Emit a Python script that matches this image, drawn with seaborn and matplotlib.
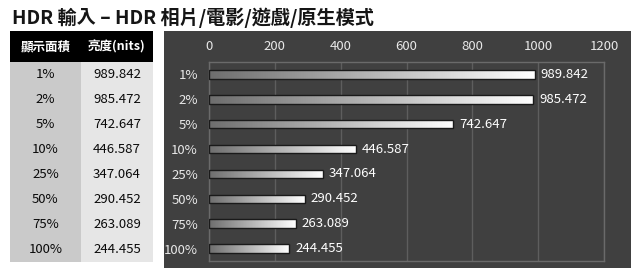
import numpy as np
import pandas as pd
import matplotlib
matplotlib.use("Agg")
import matplotlib.pyplot as plt
from matplotlib.patches import Rectangle
import seaborn as sns

title = "HDR 輸入 – HDR 相片/電影/遊戲/原生模式"
header = ["顯示面積", "亮度(nits)"]
areas = ["1%", "2%", "5%", "10%", "25%", "50%", "75%", "100%"]
nits = [989.842, 985.472, 742.647, 446.587, 347.064, 290.452, 263.089, 244.455]
xticks = [0, 200, 400, 600, 800, 1000, 1200]

sns.set_theme(style="white")
plt.rcParams['font.family'] = ['Noto Sans CJK TC', 'DejaVu Sans']

W, H = 640, 274
fig = plt.figure(figsize=(6.4, 2.74), dpi=100)

def fr(x0, y0, x1, y1):
    return [x0 / W, 1 - y1 / H, (x1 - x0) / W, (y1 - y0) / H]

# title
fig.text(12 / W, 1 - 18 / H, title, fontsize=13.8, fontweight='bold', color='#151515',
         va='center', ha='left')

# table
tax = fig.add_axes(fr(10, 31, 153, 262))
tax.set_xlim(0, 143)
tax.set_ylim(231, 0)
tax.axis('off')
hh, rh = 31, 25
tax.add_patch(Rectangle((0, 0), 143, hh, color='black', lw=0))
tax.add_patch(Rectangle((0, hh), 71, rh * len(areas), color='#cacaca', lw=0))
tax.add_patch(Rectangle((71, hh), 72, rh * len(areas), color='#e6e6e6', lw=0))
tax.text(35.5, hh / 2, header[0], color='white', fontsize=9, fontweight='bold', ha='center', va='center')
tax.text(107, hh / 2, header[1], color='white', fontsize=9, fontweight='bold', ha='center', va='center')
for i, (a, v) in enumerate(zip(areas, nits)):
    yc = hh + rh * i + rh / 2
    tax.text(35.5, yc, a, color='#0a0a0a', fontsize=9.5, ha='center', va='center')
    tax.text(107, yc, f"{v:.3f}", color='#0a0a0a', fontsize=9.5, ha='center', va='center')

# dark panel
fig.patches.append(Rectangle((164 / W, 1 - 268 / H), (631 - 164) / W, (268 - 31) / H,
                             transform=fig.transFigure, color='#404040', lw=0, zorder=0))

ax = fig.add_axes(fr(209, 62, 604, 261))
ax.set_zorder(2)
ax.set_facecolor('none')
df = pd.DataFrame({"area": areas, "nits": nits})
sns.barplot(data=df, x="nits", y="area", orient='h', width=0.34, color='#999999',
            edgecolor='#1a1a1a', linewidth=1.0, ax=ax, zorder=3)
ax.set_xlim(0, 1200)
ax.set_xticks(xticks)
ax.xaxis.tick_top()
ax.tick_params(axis='x', colors='#e8e8e8', labelsize=9.5, length=0, pad=6.5)
ax.tick_params(axis='y', colors='#e8e8e8', labelsize=9.5, length=0, pad=8)
ax.set_xlabel("")
ax.set_ylabel("")
ax.grid(axis='x', color='#5e5e5e', lw=1, zorder=0)
ax.set_axisbelow(True)
for s in ax.spines.values():
    s.set_color('#6a6a6a')
    s.set_linewidth(1)

# gradient fill
grad = np.linspace(0, 1, 256).reshape(1, -1)
cmap = matplotlib.colors.LinearSegmentedColormap.from_list('g', ['#6e6e6e', '#ffffff'])
for p in list(ax.patches):
    x0, y0 = p.get_x(), p.get_y()
    w, h = p.get_width(), p.get_height()
    im = ax.imshow(grad, extent=[x0, x0 + w, y0 + h, y0], aspect='auto', cmap=cmap,
                   zorder=3.5, interpolation='bilinear')
    im.set_clip_path(p)
    p.set_facecolor('none')
    p.set_zorder(4)
ax.set_xlim(0, 1200)
ax.set_ylim(len(areas) - 0.5, -0.5)
ax.set_aspect('auto')

for c in ax.containers:
    ax.bar_label(c, labels=[f"{v:.3f}" for v in nits], padding=4, color='white', fontsize=9.5)

fig.savefig("out.png", dpi=100)
